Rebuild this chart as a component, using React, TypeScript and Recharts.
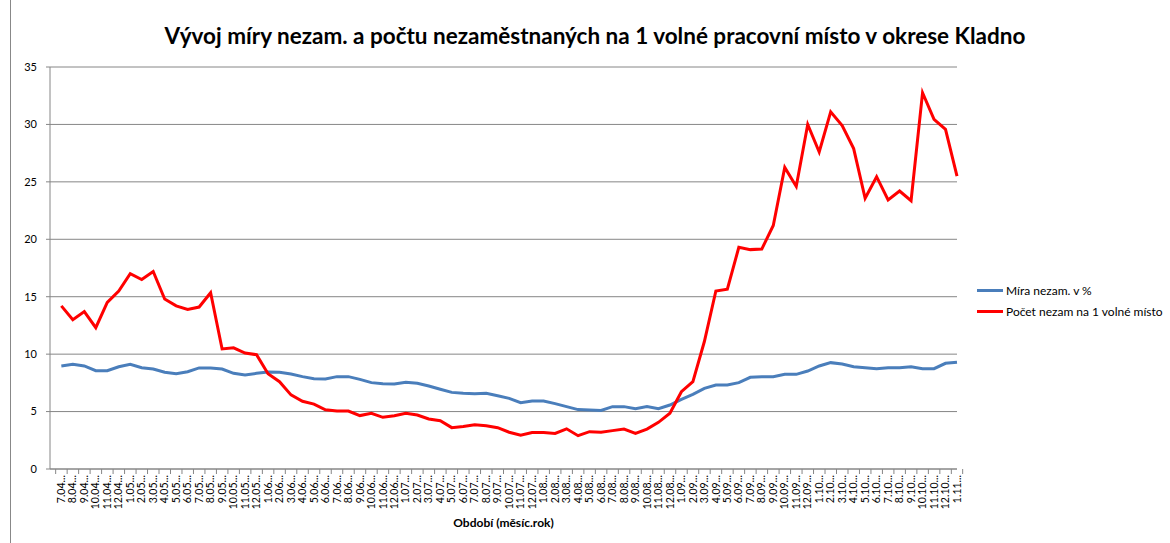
import { LineChart, Line, XAxis, YAxis, CartesianGrid, Label } from 'recharts';

const months = [
  '7.04...', '8.04...', '9.04...', '10.04...', '11.04...', '12.04...',
  '1.05...', '2.05...', '3.05...', '4.05...', '5.05...', '6.05...', '7.05...', '8.05...', '9.05...', '10.05...', '11.05...', '12.05...',
  '1.06...', '2.06...', '3.06...', '4.06...', '5.06...', '6.06...', '7.06...', '8.06...', '9.06...', '10.06...', '11.06...', '12.06...',
  '1.07...', '2.07...', '3.07...', '4.07...', '5.07...', '6.07...', '7.07...', '8.07...', '9.07...', '10.07...', '11.07...', '12.07...',
  '1.08...', '2.08...', '3.08...', '4.08...', '5.08...', '6.08...', '7.08...', '8.08...', '9.08...', '10.08...', '11.08...', '12.08...',
  '1.09...', '2.09...', '3.09...', '4.09...', '5.09...', '6.09...', '7.09...', '8.09...', '9.09...', '10.09...', '11.09...', '12.09...',
  '1.10...', '2.10...', '3.10...', '4.10...', '5.10...', '6.10...', '7.10...', '8.10...', '9.10...', '10.10...', '11.10...', '12.10...',
  '1.11...',
];

// Míra nezam. v %
const unemploymentRate = [
  8.97, 9.11, 8.97, 8.56, 8.56, 8.9,
  9.11, 8.82, 8.7, 8.42, 8.3, 8.47, 8.8, 8.8, 8.7, 8.33, 8.18, 8.33,
  8.44, 8.42, 8.27, 8.04, 7.86, 7.83, 8.04, 8.04, 7.8, 7.52, 7.42, 7.4,
  7.55, 7.46, 7.23, 6.94, 6.67, 6.59, 6.56, 6.59, 6.38, 6.15, 5.78, 5.92,
  5.92, 5.69, 5.43, 5.17, 5.14, 5.1, 5.43, 5.43, 5.25, 5.43, 5.25, 5.57,
  6.06, 6.5, 7.02, 7.31, 7.31, 7.52, 7.98, 8.04, 8.04, 8.24, 8.24, 8.53,
  8.97, 9.26, 9.14, 8.9, 8.82, 8.73, 8.82, 8.82, 8.9, 8.73, 8.73, 9.2,
  9.29,
];

// Počet nezam na 1 volné místo
const perVacancy = [
  14.2, 13.0, 13.7, 12.3, 14.5, 15.5,
  17.0, 16.5, 17.2, 14.8, 14.2, 13.9, 14.1, 15.35, 10.45, 10.55, 10.1, 9.95,
  8.3, 7.6, 6.45, 5.9, 5.65, 5.15, 5.05, 5.05, 4.65, 4.85, 4.5, 4.64,
  4.85, 4.7, 4.35, 4.2, 3.6, 3.7, 3.85, 3.77, 3.6, 3.2, 2.94, 3.17,
  3.17, 3.1, 3.5, 2.9, 3.25, 3.2, 3.34, 3.48, 3.1, 3.48, 4.06, 4.85,
  6.73, 7.6, 11.1, 15.5, 15.65, 19.3, 19.1, 19.15, 21.2, 26.26, 24.6, 30.0,
  27.6, 31.1, 29.9, 27.9, 23.57, 25.45, 23.42, 24.2, 23.36, 32.76, 30.44, 29.57,
  25.5,
];

const yTicks = [0, 5, 10, 15, 20, 25, 30, 35];

const data = months.map((m, i) => ({
  month: m,
  rate: unemploymentRate[i],
  vacancy: perVacancy[i],
}));

const FONT = 'Lato, "Open Sans", sans-serif';
const PLOT_LEFT = 50;
const PLOT_RIGHT = 957;
const BAND = (PLOT_RIGHT - PLOT_LEFT) / (months.length + 1);
const GRID = '#868686';

const MonthTick = (props: any) => {
  const { x, y, payload, index } = props;
  const last = index === months.length - 1;
  return (
    <g>
      <line x1={x - BAND / 2} y1={y} x2={x - BAND / 2} y2={y + 5} stroke={GRID} />
      {last && <line x1={x + BAND / 2} y1={y} x2={x + BAND / 2} y2={y + 5} stroke={GRID} />}
      <text
        x={x}
        y={y + 6}
        transform={`rotate(-90, ${x}, ${y + 6})`}
        textAnchor="end"
        dy="0.35em"
        fontSize={10.5}
        fontFamily={FONT}
        fill="#000"
      >
        {payload.value}
      </text>
    </g>
  );
};

const legendItems = [
  { name: 'Míra nezam. v %', color: '#4A7EBB' },
  { name: 'Počet nezam na 1 volné místo', color: '#FF0000' },
];

export default function App() {
  return (
    <div style={{ position: 'absolute', left: 0, top: 0, width: 1170, height: 543, background: '#fff' }}>
      <div style={{ position: 'absolute', left: 10, top: 0, bottom: 0, borderLeft: '1px solid #888' }} />
      <div
        style={{
          position: 'absolute',
          left: 0,
          width: 1190,
          top: 22,
          textAlign: 'center',
          fontFamily: FONT,
          fontWeight: 'bold',
          fontSize: 22.5,
          color: '#000',
          zIndex: 1,
        }}
      >
        Vývoj míry nezam. a počtu nezaměstnaných na 1 volné pracovní místo v okrese Kladno
      </div>
      <div
        style={{
          position: 'absolute',
          left: 977,
          top: 280,
          fontFamily: FONT,
          fontSize: 12,
          color: '#000',
          zIndex: 1,
        }}
      >
        {legendItems.map((item) => (
          <div key={item.name} style={{ display: 'flex', alignItems: 'center', height: 21 }}>
            <span style={{ display: 'inline-block', width: 26, height: 2.5, background: item.color, marginRight: 3 }} />
            <span>{item.name}</span>
          </div>
        ))}
      </div>
      <LineChart
        width={1170}
        height={543}
        data={data}
        margin={{ top: 67, right: 1170 - PLOT_RIGHT, bottom: 12, left: 10 }}
        style={{ position: 'absolute', left: 0, top: 0 }}
      >
        <CartesianGrid vertical={false} stroke={GRID} />
        <XAxis
          dataKey="month"
          interval={0}
          padding={{ left: BAND, right: 0 }}
          tickSize={0}
          tickMargin={0}
          tickLine={false}
          tick={<MonthTick />}
          axisLine={{ stroke: GRID }}
          height={62}
        >
          <Label
            value="Období (měsíc.rok)"
            position="insideBottom"
            offset={4}
            style={{ fontFamily: FONT, fontWeight: 'bold', fontSize: 12, fill: '#000' }}
          />
        </XAxis>
        <YAxis
          domain={[0, 35]}
          ticks={yTicks}
          width={40}
          tickSize={4}
          tickMargin={9}
          axisLine={{ stroke: GRID }}
          tickLine={{ stroke: GRID }}
          tick={{ fontFamily: FONT, fontSize: 11, fill: '#000' }}
        />
        <Line
          type="linear"
          dataKey="rate"
          name="Míra nezam. v %"
          stroke="#4A7EBB"
          strokeWidth={3}
          dot={false}
          isAnimationActive={false}
        />
        <Line
          type="linear"
          dataKey="vacancy"
          name="Počet nezam na 1 volné místo"
          stroke="#FF0000"
          strokeWidth={3}
          dot={false}
          isAnimationActive={false}
        />
      </LineChart>
    </div>
  );
}
